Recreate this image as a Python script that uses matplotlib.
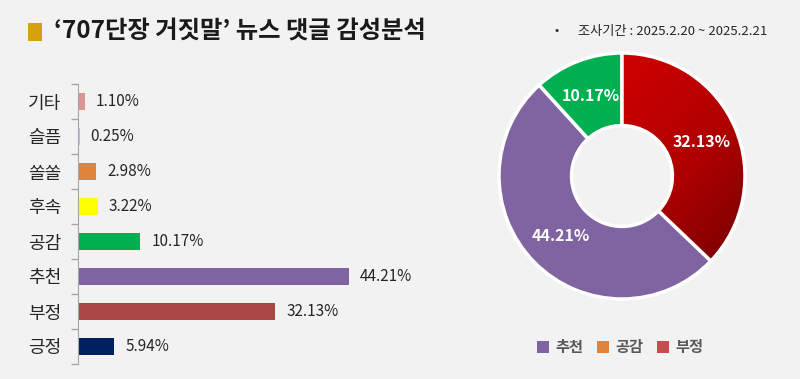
import matplotlib
matplotlib.use('Agg')
import matplotlib.pyplot as plt
import numpy as np
from matplotlib.colors import LinearSegmentedColormap
from matplotlib.patches import Rectangle, Patch, Wedge

plt.rcParams['font.family'] = ['Noto Sans CJK KR', 'DejaVu Sans']

title = '‘707단장 거짓말’ 뉴스 댓글 감성분석'
note = '조사기간 : 2025.2.20 ~ 2025.2.21'

categories = ['기타', '슬픔', '쏠쏠', '후속', '공감', '추천', '부정', '긍정']
values = [1.10, 0.25, 2.98, 3.22, 10.17, 44.21, 32.13, 5.94]
bar_colors = ['#D99694', '#B4C7E7', '#E0843C', '#FFFF00', '#00B050', '#8064A2', '#AA4643', '#002060']

donut_labels = ['부정', '추천', '공감']
donut_values = [32.13, 44.21, 10.17]
donut_colors = ['#C00000', '#8064A2', '#00B050']

legend_labels = ['추천', '공감', '부정']
legend_colors = ['#8064A2', '#E0843C', '#C0504D']

BG = '#F2F2F2'
W, H = 800, 379
fig = plt.figure(figsize=(W / 100, H / 100), dpi=100, facecolor=BG)

# ---- title ----
fig.patches.append(Rectangle((28 / W, 1 - 41 / H), 14 / W, 18 / H,
                             transform=fig.transFigure, facecolor='#D4A20C',
                             edgecolor='none'))
fig.text(54 / W, 1 - 31 / H, title, fontsize=17.5, fontweight='bold',
         color='#1A1A1A', va='center', ha='left')
fig.text(557 / W, 1 - 31 / H, '•', fontsize=9, color='#262626', va='center', ha='center')
fig.text(578 / W, 1 - 31 / H, note, fontsize=9.5, color='#262626', va='center', ha='left')

# ---- bar chart ----
xmax = 60
ax = fig.add_axes([78 / W, 15 / H, xmax * 6.13 / W, 280 / H])
ax.set_facecolor(BG)
y = np.arange(len(categories))
bars = ax.barh(y, values, height=0.5, color=bar_colors, edgecolor='none')
ax.set_xlim(0, xmax)
ax.set_ylim(len(categories) - 0.5, -0.5)
ax.set_yticks(y)
ax.set_yticklabels(categories, fontsize=13, color='#262626')
ax.set_yticks(np.arange(-0.5, len(categories), 1), minor=True)
ax.tick_params(axis='y', which='major', length=0, pad=12)
ax.tick_params(axis='y', which='minor', length=5, color='#A6A6A6', width=1)
ax.set_xticks([])
for s in ['top', 'right', 'bottom']:
    ax.spines[s].set_visible(False)
ax.spines['left'].set_color('#A6A6A6')
for b, v in zip(bars, values):
    ax.annotate(f'{v:.2f}%', (b.get_width(), b.get_y() + b.get_height() / 2),
                xytext=(8, 0), textcoords='offset points', va='center', ha='left',
                fontsize=11, color='#262626')

# ---- donut ----
R = 123.0
size = 2.6 * R
cx, cy = 622, 176
ax2 = fig.add_axes([(cx - size / 2) / W, (H - cy - size / 2) / H, size / W, size / H])
ax2.set_facecolor('none')
ax2.axis('off')
wedges, _ = ax2.pie(donut_values, colors=donut_colors, startangle=90, counterclock=False,
                    radius=1, wedgeprops=dict(width=0.59, edgecolor='white', linewidth=2.5))
# gradient on the red wedge
red = wedges[0]
cmap = LinearSegmentedColormap.from_list('redg', ['#CC0000', '#B00000', '#780000'])
xx, yy = np.meshgrid(np.linspace(-1.05, 1.05, 300), np.linspace(1.05, -1.05, 300))
g = (xx - yy)
g = (g - g.min()) / (g.max() - g.min())
g = np.clip((g - 0.3) / 0.6, 0, 1)
im = ax2.imshow(g, cmap=cmap, extent=[-1.05, 1.05, -1.05, 1.05], zorder=red.get_zorder() + 0.1)
im.set_clip_path(red)
outline = Wedge(red.center, red.r, red.theta1, red.theta2, width=red.width,
                facecolor='none', edgecolor='white', linewidth=2.5,
                zorder=red.get_zorder() + 0.2)
ax2.add_patch(outline)
for w, v in zip(wedges, donut_values):
    th = np.deg2rad((w.theta1 + w.theta2) / 2)
    ax2.text(0.7 * np.cos(th), 0.7 * np.sin(th), f'{v:.2f}%', ha='center', va='center',
             fontsize=11.5, fontweight='bold', color='white', zorder=10)
ax2.set_xlim(-1.3, 1.3)
ax2.set_ylim(-1.3, 1.3)
ax2.set_aspect('equal')

# ---- legend ----
handles = [Patch(facecolor=c, edgecolor='none') for c in legend_colors]
leg = fig.legend(handles, legend_labels, loc='center', bbox_to_anchor=(620 / W, 1 - 347 / H),
                 ncol=3, frameon=False, handlelength=0.8, handleheight=0.8,
                 handletextpad=0.4, columnspacing=0.9, fontsize=11)
for t in leg.get_texts():
    t.set_color('#595959')
    t.set_fontweight('bold')

fig.savefig('out.png', dpi=100, facecolor=BG)
